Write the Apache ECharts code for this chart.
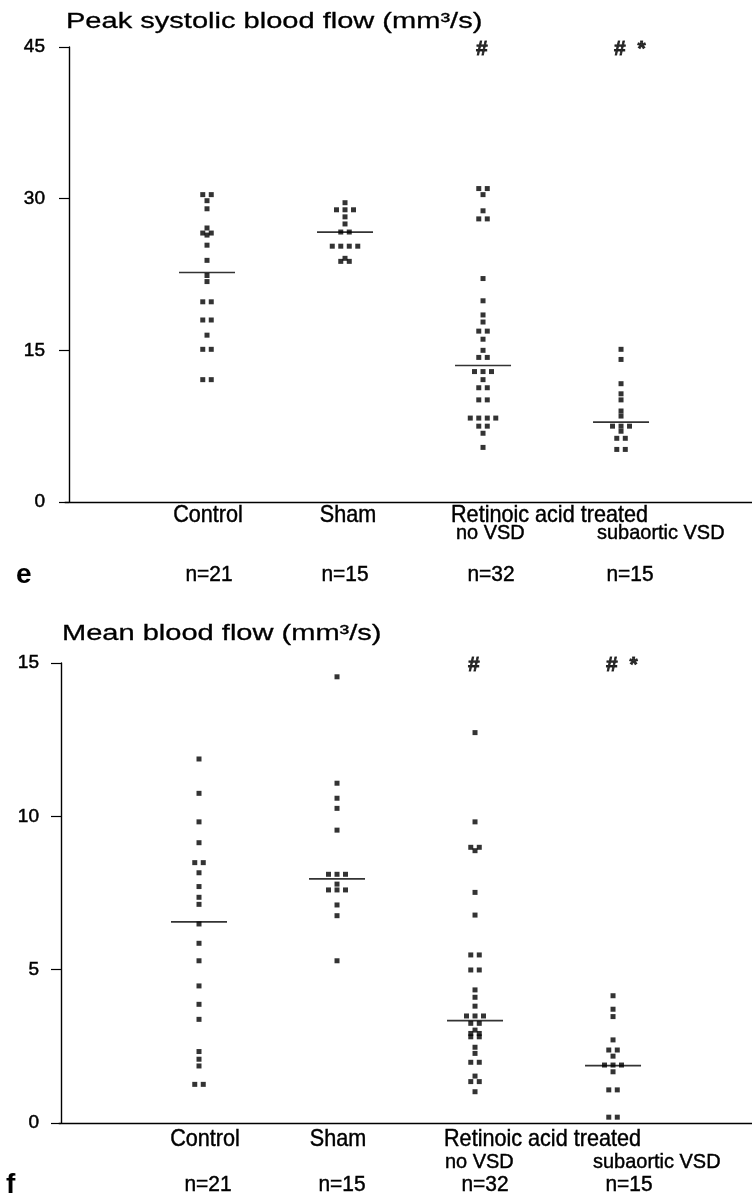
<!DOCTYPE html>
<html><head><meta charset="utf-8">
<script src="https://cdn.jsdelivr.net/npm/echarts@6/dist/echarts.min.js"></script>
<style>html,body{margin:0;padding:0;background:#fff}#c{width:752px;height:1204px}</style>
</head><body><div id="c"></div>
<script>
// ---------- data ----------
const categories = ['Control', 'Sham', 'Retinoic acid treated', ''];
const subLabels = ['', '', 'no VSD', 'subaortic VSD'];
const nLabels = ['n=21', 'n=15', 'n=32', 'n=15'];
const sigLabels = ['', '', '#', '# *'];

const peakTitle = 'Peak systolic blood flow (mm³/s)';
const peakTicks = [0, 15, 30, 45];
const peakControl = [30.4, 30.4, 29.8, 29.0, 27.1, 26.6, 26.6, 26.4, 25.4, 23.9, 22.4, 21.8, 19.8, 19.8, 18.0, 18.0, 16.5, 15.1, 15.1, 12.1, 12.1];
const peakSham = [29.6, 28.9, 28.9, 28.9, 28.2, 27.5, 26.7, 26.7, 25.3, 25.3, 25.3, 25.3, 24.1, 23.8, 23.8];
const peakRetNoVSD = [31.0, 31.0, 30.4, 28.8, 28.0, 28.0, 22.1, 19.9, 18.5, 17.8, 16.9, 16.9, 16.1, 15.0, 14.3, 14.3, 12.9, 12.9, 12.9, 12.1, 11.3, 11.3, 10.1, 10.1, 8.3, 8.3, 8.3, 8.3, 7.5, 7.5, 6.8, 5.4];
const peakRetVSD = [15.1, 14.1, 11.7, 10.7, 10.1, 9.0, 8.5, 7.5, 7.5, 7.5, 7.0, 6.3, 6.3, 5.2, 5.2];
const peakGroupMeans = [22.7, 26.7, 13.5, 7.9];

const meanTitle = 'Mean blood flow (mm³/s)';
const meanTicks = [0, 5, 10, 15];
const meanControl = [11.87, 10.75, 9.82, 9.14, 8.49, 8.49, 8.16, 7.71, 7.36, 7.13, 6.49, 5.86, 5.29, 4.47, 3.87, 3.38, 2.33, 2.08, 1.86, 1.26, 1.26];
const meanSham = [14.55, 11.08, 10.59, 10.26, 9.55, 8.11, 8.11, 8.11, 7.79, 7.60, 7.60, 7.60, 7.11, 6.76, 5.29];
const meanRetNoVSD = [12.73, 9.82, 8.99, 8.99, 8.88, 7.52, 6.78, 5.48, 5.48, 4.99, 4.99, 4.34, 4.10, 3.81, 3.49, 3.49, 3.49, 3.25, 3.25, 3.03, 2.92, 2.92, 2.81, 2.81, 2.47, 2.27, 1.98, 1.98, 1.53, 1.35, 1.35, 1.02];
const meanRetVSD = [4.15, 3.71, 3.47, 2.71, 2.38, 2.38, 2.18, 1.89, 1.89, 1.89, 1.67, 1.08, 1.08, 0.19, 0.19];
const meanGroupMeans = [6.56, 7.96, 3.34, 1.87];

// ---------- styling / layout ----------
const FONT = '"Liberation Sans", Arial, Helvetica, sans-serif';
const DOT_GAP = 8.5;

function swarm(values, xi) {
  const counts = {}, seen = {};
  values.forEach(v => counts[v] = (counts[v] || 0) + 1);
  return values.map(v => {
    const n = counts[v];
    const k = seen[v] || 0; seen[v] = k + 1;
    return { value: [xi, v], symbolOffset: [(k - (n - 1) / 2) * DOT_GAP, 0] };
  });
}

const panels = [
  { title: peakTitle, ticks: peakTicks, groups: [peakControl, peakSham, peakRetNoVSD, peakRetVSD], means: peakGroupMeans,
    grid: { left: 65, right: 0, top: 47, height: 455 }, xMin: -0.029, xMax: 4.949, titleY: 22, titleX: 66, letter: 'e', letterX: 16,
    rowDy: [13, 31, 73], dx: { cat: [1, 3, -32, 0], sub: [0, 0, -27, -24], n: [2, 0, 8, 9] } },
  { title: meanTitle, ticks: meanTicks, groups: [meanControl, meanSham, meanRetNoVSD, meanRetVSD], means: meanGroupMeans,
    grid: { left: 59, right: 0, top: 663, height: 460 }, xMin: -0.0145, xMax: 5.007, titleY: 634, titleX: 62, letter: 'f', letterX: 6,
    rowDy: [16, 39, 62], dx: { cat: [6, 1, -31, 0], sub: [0, 0, -30, -20], n: [9, 5, 10, 16] } }
];

const option = { animation: false, backgroundColor: '#fff', grid: [], xAxis: [], yAxis: [], series: [] };

panels.forEach((p, gi) => {
  const t = p.ticks;
  option.grid.push(p.grid);
  option.xAxis.push({ type: 'value', gridIndex: gi, min: p.xMin, max: p.xMax,
    axisLine: { show: true, onZero: false, lineStyle: { color: '#000', width: 1.4 } },
    axisTick: { show: false }, axisLabel: { show: false }, splitLine: { show: false } });
  option.yAxis.push({ type: 'value', gridIndex: gi, min: t[0], max: t[t.length - 1], interval: t[1] - t[0],
    axisLine: { show: true, lineStyle: { color: '#000', width: 1.4 } },
    axisTick: { show: true, inside: false, length: 10, lineStyle: { color: '#000', width: 1.2 } },
    axisLabel: { margin: 20, fontFamily: FONT, fontSize: 19, color: '#000', textBorderColor: '#000', textBorderWidth: 0.5 },
    splitLine: { show: false } });
  p.groups.forEach((vals, ci) => {
    option.series.push({ type: 'scatter', xAxisIndex: gi, yAxisIndex: gi, symbol: 'rect', symbolSize: 5,
      itemStyle: { color: '#000' }, data: swarm(vals, ci + 1), silent: true });
  });
  option.series.push({ type: 'scatter', xAxisIndex: gi, yAxisIndex: gi, symbol: 'rect', symbolSize: [56, 1.7],
    itemStyle: { color: '#000' }, data: p.means.map((m, ci) => [ci + 1, m]), silent: true, z: 3 });
  option.series.push({ type: 'scatter', xAxisIndex: gi, yAxisIndex: gi, symbol: 'circle', symbolSize: 1,
    itemStyle: { color: 'rgba(0,0,0,0)' },
    data: sigLabels.map((s, ci) => ({ value: [ci + 1, t[t.length - 1]], name: s })).filter(d => d.name),
    label: { show: true, position: 'inside', formatter: d => d.name.replace(/ /g, '  '),
      fontFamily: FONT, fontWeight: 'bold', fontSize: 21, color: '#000', textBorderColor: '#000', textBorderWidth: 0.8,
      align: 'left', offset: [-7, 2] },
    silent: true, z: 5 });
});

const chart = echarts.init(document.getElementById('c'), null, { renderer: 'canvas' });
chart.setOption(option);

// titles and category labels placed through axis conversion
const ink = { fill: '#000', stroke: '#000', lineWidth: 0.45 };
const graphics = [];
panels.forEach((p, gi) => {
  const y0 = chart.convertToPixel({ yAxisIndex: gi }, 0);
  graphics.push({ type: 'text', x: p.titleX, y: p.titleY, scaleX: 1.32,
    style: Object.assign({ text: p.title, font: '22px ' + FONT, align: 'left', verticalAlign: 'middle' }, ink, { lineWidth: 0.3 }) });
  categories.forEach((c, ci) => {
    const x = chart.convertToPixel({ xAxisIndex: gi }, ci + 1);
    if (c) graphics.push({ type: 'text', x: x + p.dx.cat[ci], y: y0 + p.rowDy[0], scaleX: 0.9,
      style: Object.assign({ text: c, font: '24px ' + FONT, align: ci === 2 ? 'left' : 'center', verticalAlign: 'middle' }, ink) });
    if (subLabels[ci]) graphics.push({ type: 'text', x: x + p.dx.sub[ci], y: y0 + p.rowDy[1], scaleX: 0.95,
      style: Object.assign({ text: subLabels[ci], font: '21px ' + FONT, align: 'left', verticalAlign: 'middle' }, ink) });
    graphics.push({ type: 'text', x: x + p.dx.n[ci], y: y0 + p.rowDy[2], scaleX: 0.95,
      style: Object.assign({ text: nLabels[ci], font: '22px ' + FONT, align: 'center', verticalAlign: 'middle' }, ink) });
  });
  graphics.push({ type: 'text', x: p.letterX, y: y0 + p.rowDy[2],
    style: { text: p.letter, font: 'bold 28px ' + FONT, fill: '#000', align: 'left', verticalAlign: 'middle' } });
});
chart.setOption({ graphic: graphics });
</script></body></html>
